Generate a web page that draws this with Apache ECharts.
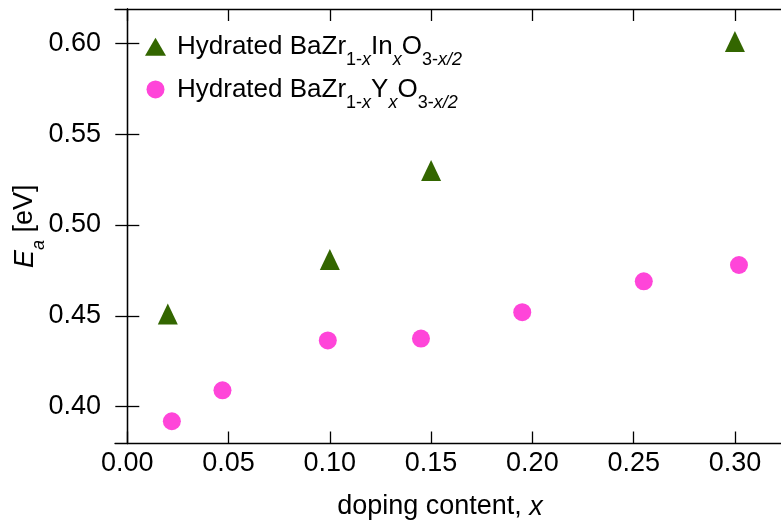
<!DOCTYPE html>
<html>
<head>
<meta charset="utf-8">
<script src="https://cdn.jsdelivr.net/npm/echarts@6/dist/echarts.min.js"></script>
<style>
  html, body { margin: 0; padding: 0; background: #fff; }
  #chart { width: 781px; height: 521px; }
</style>
</head>
<body>
<div id="chart"></div>
<script>
// Activation energy vs. dopant fraction for hydrated BaZrO3-based proton conductors
const inDoping = [0.020, 0.100, 0.150, 0.300];
const inEnergy = [0.451, 0.481, 0.530, 0.601];

const yDoping = [0.022, 0.047, 0.099, 0.145, 0.195, 0.255, 0.302];
const yEnergy = [0.392, 0.409, 0.4365, 0.4375, 0.452, 0.469, 0.478];

const xTicks = [0.00, 0.05, 0.10, 0.15, 0.20, 0.25, 0.30];
const yTicks = [0.40, 0.45, 0.50, 0.55, 0.60];

const xRange = [-0.00607, 0.3267];
const yRange = [0.37975, 0.6189];

const FONT = '"Liberation Sans", Arial, Helvetica, sans-serif';
const GREEN = '#336600';
const PINK = '#ff45d9';

const pairs = (xs, ys) => xs.map((x, i) => [x, ys[i]]);

// rich-text styles for chemical formulas with lowered subscripts
const richFormula = {
  m: { fontFamily: FONT, fontSize: 26, lineHeight: 36, color: '#000' },
  m0: { fontFamily: FONT, fontSize: 26, lineHeight: 36, color: '#000', padding: [0, 0, 0, 6] },
  s: { fontFamily: FONT, fontSize: 18, lineHeight: 8, padding: [26.6, 0, 0, 0], color: '#000' },
  si: { fontFamily: FONT, fontSize: 18, lineHeight: 8, padding: [26.6, 0, 0, 0], fontStyle: 'italic', color: '#000' }
};

const legendLabels = {
  'In': '{m0|Hydrated BaZr}{s|1-}{si|x}{m|In}{si|x}{m|O}{s|3-}{si|x/2}',
  'Y': '{m0|Hydrated BaZr}{s|1-}{si|x}{m|Y}{si|x}{m|O}{s|3-}{si|x/2}'
};

const frameLine = { lineStyle: { color: '#000', width: 1.3 } };
const tickStyle = { color: '#000', width: 1.3 };

const chart = echarts.init(document.getElementById('chart'), null, { renderer: 'canvas' });

chart.setOption({
  animation: false,
  backgroundColor: '#fff',
  textStyle: { fontFamily: FONT },
  grid: { left: 115, right: -8, top: 9, bottom: 77.5, containLabel: false, outerBoundsMode: 'none' },
  legend: {
    orient: 'vertical',
    left: 145,
    top: 24.5,
    padding: 0,
    itemWidth: 21,
    itemHeight: 18,
    itemGap: -2,
    symbolKeepAspect: false,
    data: ['In', 'Y'],
    formatter: name => legendLabels[name],
    textStyle: { rich: richFormula }
  },
  xAxis: [
    {
      type: 'value',
      min: xRange[0],
      max: xRange[1],
      position: 'bottom',
      axisLine: { show: true, ...frameLine },
      axisTick: { show: true, inside: true, length: 12, customValues: xTicks, lineStyle: tickStyle },
      axisLabel: {
        customValues: xTicks,
        formatter: v => v.toFixed(2),
        fontFamily: FONT, fontSize: 27, color: '#000', margin: 7
      },
      splitLine: { show: false },
      name: '{n|doping content, }{i|x}',
      nameLocation: 'middle',
      nameGap: 50,
      nameMoveOverlap: false,
      nameTextStyle: {
        padding: [0, 24, 0, 0],
        rich: {
          n: { fontFamily: FONT, fontSize: 27, color: '#000' },
          i: { fontFamily: FONT, fontSize: 27, fontStyle: 'italic', color: '#000' }
        }
      }
    },
    {
      type: 'value',
      min: xRange[0],
      max: xRange[1],
      position: 'top',
      axisLine: { show: true, ...frameLine },
      axisTick: { show: true, inside: true, length: 12, customValues: xTicks, lineStyle: tickStyle },
      axisLabel: { show: false },
      splitLine: { show: false }
    }
  ],
  yAxis: [
    {
      type: 'value',
      min: yRange[0],
      max: yRange[1],
      position: 'left',
      axisLine: { show: true, ...frameLine },
      axisTick: { show: true, inside: true, length: 12, customValues: yTicks, lineStyle: tickStyle },
      axisLabel: {
        customValues: yTicks,
        formatter: v => v.toFixed(2),
        fontFamily: FONT, fontSize: 27, color: '#000', margin: 14
      },
      splitLine: { show: false },
      name: '{e|E}{a|a}{n| [eV]}',
      nameLocation: 'middle',
      nameRotate: 90,
      nameGap: 73,
      nameMoveOverlap: false,
      nameTextStyle: {
        rich: {
          e: { fontFamily: FONT, fontSize: 27, lineHeight: 34, fontStyle: 'italic', color: '#000' },
          a: { fontFamily: FONT, fontSize: 18, lineHeight: 8, padding: [27.2, 0, 0, 0], fontStyle: 'italic', color: '#000' },
          n: { fontFamily: FONT, fontSize: 27, lineHeight: 34, color: '#000' }
        }
      }
    },
    {
      type: 'value',
      min: yRange[0],
      max: yRange[1],
      position: 'right',
      axisLine: { show: true, ...frameLine },
      axisTick: { show: true, inside: true, length: 12, customValues: yTicks, lineStyle: tickStyle },
      axisLabel: { show: false },
      splitLine: { show: false }
    }
  ],
  series: [
    {
      name: 'In',
      type: 'scatter',
      symbol: 'triangle',
      symbolSize: [20, 21],
      itemStyle: { color: GREEN, opacity: 1 },
      data: pairs(inDoping, inEnergy)
    },
    {
      name: 'Y',
      type: 'scatter',
      symbol: 'circle',
      symbolSize: 18,
      itemStyle: { color: PINK, opacity: 1 },
      data: pairs(yDoping, yEnergy)
    }
  ]
});
</script>
</body>
</html>
